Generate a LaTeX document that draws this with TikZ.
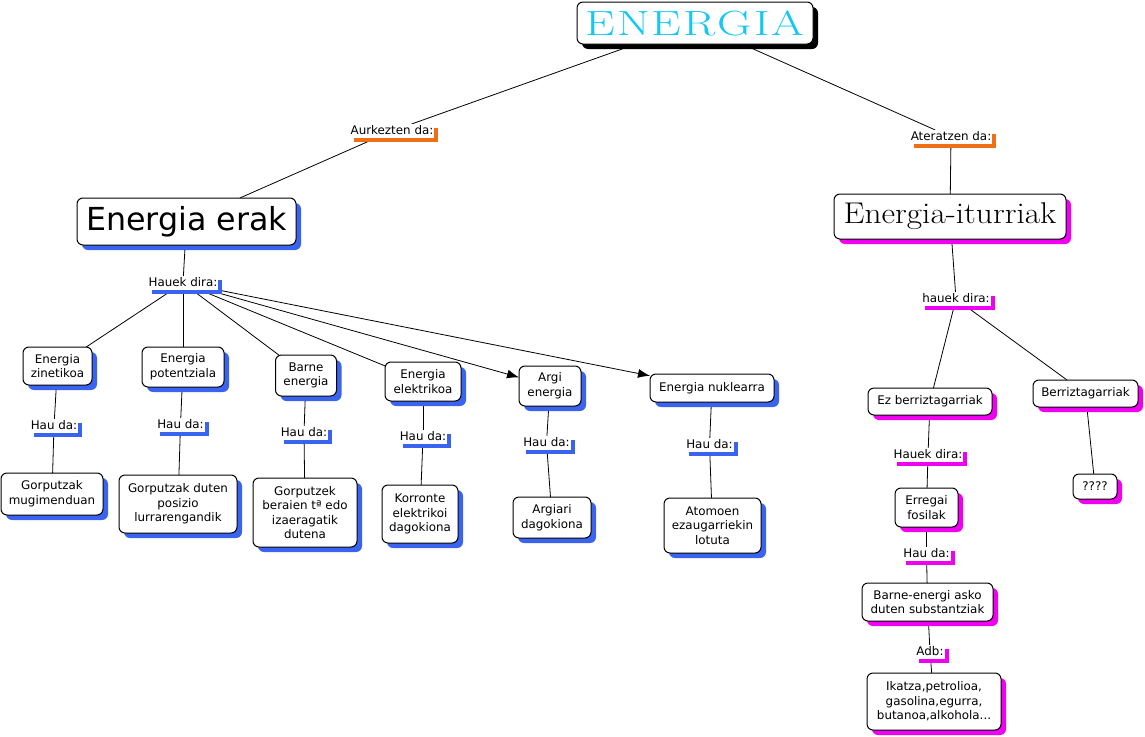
\documentclass[tikz,border=0pt]{standalone}
\usepackage{fontspec}
\setsansfont{DejaVu Sans}
\usetikzlibrary{shadows,arrows.meta,backgrounds}
\definecolor{cblue}{RGB}{58,100,240}
\definecolor{cmag}{RGB}{240,0,240}
\definecolor{corange}{RGB}{240,110,20}
\definecolor{ccyan}{RGB}{20,200,245}
\tikzset{
  concept/.style={draw=black, line width=1pt, fill=white, rounded corners=6pt,
    align=center, inner sep=2pt, outer sep=0pt,
    font=\sffamily\fontsize{11.9}{14.6}\selectfont},
  kshadow/.style={drop shadow={fill=black, opacity=1, shadow xshift=5pt, shadow yshift=-5pt}},
  bshadow/.style={drop shadow={fill=cblue, opacity=1, shadow xshift=5pt, shadow yshift=-5pt}},
  mshadow/.style={drop shadow={fill=cmag, opacity=1, shadow xshift=5pt, shadow yshift=-5pt}},
  lab/.style={fill=white, inner xsep=1pt, inner ysep=1.2pt, outer sep=0pt,
    text height=9pt, text depth=2.6pt,
    font=\sffamily\fontsize{11.9}{14}\selectfont},
  lblue/.style={lab, drop shadow={fill=cblue, opacity=1, shadow xshift=4pt, shadow yshift=-4pt}},
  lmag/.style={lab, drop shadow={fill=cmag, opacity=1, shadow xshift=4pt, shadow yshift=-4pt}},
  lorange/.style={lab, drop shadow={fill=corange, opacity=1, shadow xshift=4pt, shadow yshift=-4pt}},
  conn/.style={line width=0.8pt, draw=black},
  arr/.style={conn, -{Latex[length=12pt,width=9pt]}},
  sz/.style n args={2}{minimum width=#1pt, minimum height=#2pt}
}
\begin{document}
\begin{tikzpicture}[x=1pt,y=-1pt]
\useasboundingbox (0,0) rectangle (1145,736);

% top
\node[concept, kshadow, sz={236}{42}, font=\rmfamily\fontsize{35}{40}\selectfont, text=ccyan] (top) at (695,23)
  {\scalebox{1.35}[1]{E\kern1.5pt N\kern1.5pt E\kern1.5pt R\kern1.5pt G\kern1.5pt I\kern1.5pt A}};
\node[lorange] (aur) at (392,131) {Aurkezten da:};
\node[lorange] (ate) at (951,137) {Ateratzen da:};

\node[concept, bshadow, sz={219}{47}, font=\sffamily\fontsize{31.7}{36}\selectfont] (erak) at (186.5,221.5) {Energia erak};
\node[concept, mshadow, sz={232}{45}, font=\rmfamily\fontsize{30}{34}\selectfont] (itur) at (950,216.5) {\scalebox{1.11}[1]{Energia-iturriak}};

% left branch
\node[lblue] (hd) at (183,283) {Hauek dira:};

\node[concept, bshadow, sz={69}{38}] (zin) at (57.5,366) {Energia\\zinetikoa};
\node[concept, bshadow, sz={82}{40}] (pot) at (183,367) {Energia\\potentziala};
\node[concept, bshadow, sz={61}{41}] (bar) at (306,375.5) {Barne\\energia};
\node[concept, bshadow, sz={76}{39}] (ele) at (423,381.5) {Energia\\elektrikoa};
\node[concept, bshadow, sz={62}{40}] (arg) at (550,386) {Argi\\energia};
\node[concept, bshadow, sz={124}{28}] (nuk) at (712,388) {Energia nuklearra};

\node[lblue] (h1) at (54,426) {Hau da:};
\node[lblue] (h2) at (180.5,425) {Hau da:};
\node[lblue] (h3) at (304,433) {Hau da:};
\node[lblue] (h4) at (423,437) {Hau da:};
\node[lblue] (h5) at (546.5,443) {Hau da:};
\node[lblue] (h6) at (709.5,445) {Hau da:};

\node[concept, bshadow, sz={102}{42}] (d1) at (52,494) {Gorputzak\\mugimenduan};
\node[concept, bshadow, sz={118}{58}] (d2) at (178,504) {Gorputzak duten\\posizio\\lurrarengandik};
\node[concept, bshadow, sz={104}{69}] (d3) at (305,512.5) {Gorputzek\\beraien tª edo\\izaeragatik\\dutena};
\node[concept, bshadow, sz={76}{58}] (d4) at (420,514) {Korronte\\elektrikoi\\dagokiona};
\node[concept, bshadow, sz={78}{41}] (d5) at (552,517.5) {Argiari\\dagokiona};
\node[concept, bshadow, sz={97}{55}] (d6) at (712.5,525.5) {Atomoen\\ezaugarriekin\\lotuta};

% right branch
\node[lmag] (hr) at (956,299) {hauek dira:};
\node[concept, mshadow, sz={124}{27}] (ez) at (930,401.5) {Ez berriztagarriak};
\node[concept, mshadow, sz={105}{27}] (ber) at (1085.5,393.5) {Berriztagarriak};
\node[concept, mshadow, sz={44}{25}] (q) at (1095,486.5) {????};
\node[lmag] (hr2) at (928,455) {Hauek dira:};
\node[concept, mshadow, sz={63}{39}] (erre) at (926.5,507.5) {Erregai\\fosilak};
\node[lmag] (hr3) at (926.5,554) {Hau da:};
\node[concept, mshadow, sz={131}{38}] (bes) at (927.5,602) {Barne-energi asko\\duten substantziak};
\node[lmag] (adb) at (930,652) {Adb:};
\node[concept, mshadow, sz={134}{57}] (ika) at (934,701.5) {Ikatza,petrolioa,\\gasolina,egurra,\\butanoa,alkohola...};

\begin{scope}[on background layer]
\draw[conn] (top) -- (aur);
\draw[conn] (aur) -- (erak);
\draw[conn] (top) -- (ate);
\draw[conn] (ate) -- (itur);
\draw[conn] (erak) -- (hd);
\draw[conn] (hd) -- (zin);
\draw[conn] (hd) -- (pot);
\draw[conn] (hd) -- (bar);
\draw[conn] (hd) -- (ele);
\draw[arr] (hd) -- (arg);
\draw[arr] (hd) -- (nuk);
\draw[conn] (zin) -- (h1); \draw[conn] (h1) -- (d1);
\draw[conn] (pot) -- (h2); \draw[conn] (h2) -- (d2);
\draw[conn] (bar) -- (h3); \draw[conn] (h3) -- (d3);
\draw[conn] (ele) -- (h4); \draw[conn] (h4) -- (d4);
\draw[conn] (arg) -- (h5); \draw[conn] (h5) -- (d5);
\draw[conn] (nuk) -- (h6); \draw[conn] (h6) -- (d6);
\draw[conn] (itur) -- (hr);
\draw[conn] (hr) -- (ez);
\draw[conn] (hr) -- (ber);
\draw[conn] (ber) -- (q);
\draw[conn] (ez) -- (hr2); \draw[conn] (hr2) -- (erre);
\draw[conn] (erre) -- (hr3); \draw[conn] (hr3) -- (bes);
\draw[conn] (bes) -- (adb); \draw[conn] (adb) -- (ika);
\end{scope}
\end{tikzpicture}
\end{document}
